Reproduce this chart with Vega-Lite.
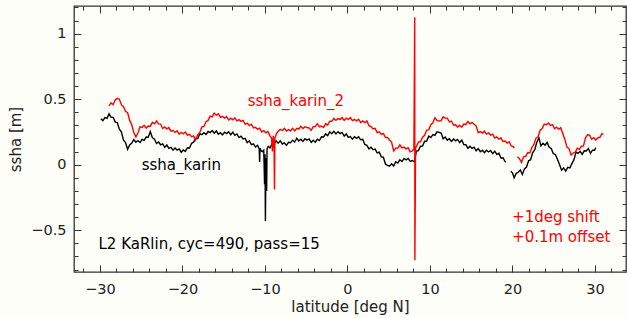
{
"$schema": "https://vega.github.io/schema/vega-lite/v6.json",
"width": 552, "height": 266,
"autosize": {"type": "none"},
"padding": {"left": 74, "top": 6, "right": 1, "bottom": 46},
"background": "#fefef8",
"config": {
  "view": {"stroke": "#333333", "strokeWidth": 1.3},
  "font": "DejaVu Sans",
  "axis": {"grid": false, "domain": false, "labelFont": "DejaVu Sans", "labelFontSize": 14.5, "labelColor": "#222222", "titleFont": "DejaVu Sans", "titleFontSize": 15, "titleFontWeight": "normal", "titleColor": "#222222", "tickColor": "#333333", "tickWidth": 1}
},
"datasets": {
"lines": [
{"lat":-29.9,"ssha":0.35,"series":"ssha_karin","part":1},
{"lat":-29.65,"ssha":0.336,"series":"ssha_karin","part":1},
{"lat":-29.4,"ssha":0.359,"series":"ssha_karin","part":1},
{"lat":-29.15,"ssha":0.354,"series":"ssha_karin","part":1},
{"lat":-28.9,"ssha":0.388,"series":"ssha_karin","part":1},
{"lat":-28.65,"ssha":0.362,"series":"ssha_karin","part":1},
{"lat":-28.4,"ssha":0.361,"series":"ssha_karin","part":1},
{"lat":-28.15,"ssha":0.325,"series":"ssha_karin","part":1},
{"lat":-27.9,"ssha":0.322,"series":"ssha_karin","part":1},
{"lat":-27.65,"ssha":0.271,"series":"ssha_karin","part":1},
{"lat":-27.4,"ssha":0.249,"series":"ssha_karin","part":1},
{"lat":-27.15,"ssha":0.187,"series":"ssha_karin","part":1},
{"lat":-26.9,"ssha":0.168,"series":"ssha_karin","part":1},
{"lat":-26.65,"ssha":0.117,"series":"ssha_karin","part":1},
{"lat":-26.4,"ssha":0.151,"series":"ssha_karin","part":1},
{"lat":-26.15,"ssha":0.165,"series":"ssha_karin","part":1},
{"lat":-25.9,"ssha":0.192,"series":"ssha_karin","part":1},
{"lat":-25.65,"ssha":0.171,"series":"ssha_karin","part":1},
{"lat":-25.4,"ssha":0.184,"series":"ssha_karin","part":1},
{"lat":-25.15,"ssha":0.169,"series":"ssha_karin","part":1},
{"lat":-24.9,"ssha":0.193,"series":"ssha_karin","part":1},
{"lat":-24.65,"ssha":0.185,"series":"ssha_karin","part":1},
{"lat":-24.4,"ssha":0.211,"series":"ssha_karin","part":1},
{"lat":-24.15,"ssha":0.21,"series":"ssha_karin","part":1},
{"lat":-23.9,"ssha":0.252,"series":"ssha_karin","part":1},
{"lat":-23.65,"ssha":0.206,"series":"ssha_karin","part":1},
{"lat":-23.4,"ssha":0.194,"series":"ssha_karin","part":1},
{"lat":-23.15,"ssha":0.162,"series":"ssha_karin","part":1},
{"lat":-22.9,"ssha":0.173,"series":"ssha_karin","part":1},
{"lat":-22.65,"ssha":0.152,"series":"ssha_karin","part":1},
{"lat":-22.4,"ssha":0.159,"series":"ssha_karin","part":1},
{"lat":-22.15,"ssha":0.133,"series":"ssha_karin","part":1},
{"lat":-21.9,"ssha":0.15,"series":"ssha_karin","part":1},
{"lat":-21.65,"ssha":0.124,"series":"ssha_karin","part":1},
{"lat":-21.4,"ssha":0.132,"series":"ssha_karin","part":1},
{"lat":-21.15,"ssha":0.111,"series":"ssha_karin","part":1},
{"lat":-20.9,"ssha":0.128,"series":"ssha_karin","part":1},
{"lat":-20.65,"ssha":0.112,"series":"ssha_karin","part":1},
{"lat":-20.4,"ssha":0.121,"series":"ssha_karin","part":1},
{"lat":-20.15,"ssha":0.095,"series":"ssha_karin","part":1},
{"lat":-19.9,"ssha":0.112,"series":"ssha_karin","part":1},
{"lat":-19.65,"ssha":0.101,"series":"ssha_karin","part":1},
{"lat":-19.4,"ssha":0.129,"series":"ssha_karin","part":1},
{"lat":-19.15,"ssha":0.127,"series":"ssha_karin","part":1},
{"lat":-18.9,"ssha":0.163,"series":"ssha_karin","part":1},
{"lat":-18.65,"ssha":0.172,"series":"ssha_karin","part":1},
{"lat":-18.4,"ssha":0.201,"series":"ssha_karin","part":1},
{"lat":-18.15,"ssha":0.2,"series":"ssha_karin","part":1},
{"lat":-17.9,"ssha":0.237,"series":"ssha_karin","part":1},
{"lat":-17.65,"ssha":0.229,"series":"ssha_karin","part":1},
{"lat":-17.4,"ssha":0.244,"series":"ssha_karin","part":1},
{"lat":-17.15,"ssha":0.23,"series":"ssha_karin","part":1},
{"lat":-16.9,"ssha":0.253,"series":"ssha_karin","part":1},
{"lat":-16.65,"ssha":0.244,"series":"ssha_karin","part":1},
{"lat":-16.4,"ssha":0.261,"series":"ssha_karin","part":1},
{"lat":-16.15,"ssha":0.24,"series":"ssha_karin","part":1},
{"lat":-15.9,"ssha":0.257,"series":"ssha_karin","part":1},
{"lat":-15.65,"ssha":0.233,"series":"ssha_karin","part":1},
{"lat":-15.4,"ssha":0.244,"series":"ssha_karin","part":1},
{"lat":-15.15,"ssha":0.227,"series":"ssha_karin","part":1},
{"lat":-14.9,"ssha":0.248,"series":"ssha_karin","part":1},
{"lat":-14.65,"ssha":0.237,"series":"ssha_karin","part":1},
{"lat":-14.4,"ssha":0.251,"series":"ssha_karin","part":1},
{"lat":-14.15,"ssha":0.228,"series":"ssha_karin","part":1},
{"lat":-13.9,"ssha":0.248,"series":"ssha_karin","part":1},
{"lat":-13.65,"ssha":0.224,"series":"ssha_karin","part":1},
{"lat":-13.4,"ssha":0.234,"series":"ssha_karin","part":1},
{"lat":-13.15,"ssha":0.207,"series":"ssha_karin","part":1},
{"lat":-12.9,"ssha":0.218,"series":"ssha_karin","part":1},
{"lat":-12.65,"ssha":0.197,"series":"ssha_karin","part":1},
{"lat":-12.4,"ssha":0.201,"series":"ssha_karin","part":1},
{"lat":-12.15,"ssha":0.168,"series":"ssha_karin","part":1},
{"lat":-11.9,"ssha":0.182,"series":"ssha_karin","part":1},
{"lat":-11.65,"ssha":0.153,"series":"ssha_karin","part":1},
{"lat":-11.4,"ssha":0.159,"series":"ssha_karin","part":1},
{"lat":-11.15,"ssha":0.135,"series":"ssha_karin","part":1},
{"lat":-10.9,"ssha":0.148,"series":"ssha_karin","part":1},
{"lat":-10.7,"ssha":0.12,"series":"ssha_karin","part":1},
{"lat":-10.65,"ssha":0.02,"series":"ssha_karin","part":1},
{"lat":-10.6,"ssha":0.125,"series":"ssha_karin","part":1},
{"lat":-10.45,"ssha":0.105,"series":"ssha_karin","part":1},
{"lat":-10.3,"ssha":0.1,"series":"ssha_karin","part":1},
{"lat":-10.15,"ssha":0.11,"series":"ssha_karin","part":1},
{"lat":-10.05,"ssha":-0.15,"series":"ssha_karin","part":1},
{"lat":-10.0,"ssha":0.08,"series":"ssha_karin","part":1},
{"lat":-9.95,"ssha":-0.43,"series":"ssha_karin","part":1},
{"lat":-9.9,"ssha":-0.1,"series":"ssha_karin","part":1},
{"lat":-9.85,"ssha":0.05,"series":"ssha_karin","part":1},
{"lat":-9.8,"ssha":-0.2,"series":"ssha_karin","part":1},
{"lat":-9.75,"ssha":0.12,"series":"ssha_karin","part":1},
{"lat":-9.6,"ssha":0.14,"series":"ssha_karin","part":1},
{"lat":-9.4,"ssha":0.128,"series":"ssha_karin","part":1},
{"lat":-9.15,"ssha":0.158,"series":"ssha_karin","part":1},
{"lat":-8.9,"ssha":0.157,"series":"ssha_karin","part":1},
{"lat":-8.65,"ssha":0.181,"series":"ssha_karin","part":1},
{"lat":-8.4,"ssha":0.164,"series":"ssha_karin","part":1},
{"lat":-8.15,"ssha":0.182,"series":"ssha_karin","part":1},
{"lat":-7.9,"ssha":0.158,"series":"ssha_karin","part":1},
{"lat":-7.65,"ssha":0.167,"series":"ssha_karin","part":1},
{"lat":-7.4,"ssha":0.147,"series":"ssha_karin","part":1},
{"lat":-7.15,"ssha":0.171,"series":"ssha_karin","part":1},
{"lat":-6.9,"ssha":0.167,"series":"ssha_karin","part":1},
{"lat":-6.65,"ssha":0.187,"series":"ssha_karin","part":1},
{"lat":-6.4,"ssha":0.173,"series":"ssha_karin","part":1},
{"lat":-6.15,"ssha":0.202,"series":"ssha_karin","part":1},
{"lat":-5.9,"ssha":0.181,"series":"ssha_karin","part":1},
{"lat":-5.65,"ssha":0.194,"series":"ssha_karin","part":1},
{"lat":-5.4,"ssha":0.177,"series":"ssha_karin","part":1},
{"lat":-5.15,"ssha":0.198,"series":"ssha_karin","part":1},
{"lat":-4.9,"ssha":0.187,"series":"ssha_karin","part":1},
{"lat":-4.65,"ssha":0.196,"series":"ssha_karin","part":1},
{"lat":-4.4,"ssha":0.17,"series":"ssha_karin","part":1},
{"lat":-4.15,"ssha":0.187,"series":"ssha_karin","part":1},
{"lat":-3.9,"ssha":0.172,"series":"ssha_karin","part":1},
{"lat":-3.65,"ssha":0.194,"series":"ssha_karin","part":1},
{"lat":-3.4,"ssha":0.184,"series":"ssha_karin","part":1},
{"lat":-3.15,"ssha":0.213,"series":"ssha_karin","part":1},
{"lat":-2.9,"ssha":0.212,"series":"ssha_karin","part":1},
{"lat":-2.65,"ssha":0.235,"series":"ssha_karin","part":1},
{"lat":-2.4,"ssha":0.222,"series":"ssha_karin","part":1},
{"lat":-2.15,"ssha":0.251,"series":"ssha_karin","part":1},
{"lat":-1.9,"ssha":0.236,"series":"ssha_karin","part":1},
{"lat":-1.65,"ssha":0.254,"series":"ssha_karin","part":1},
{"lat":-1.4,"ssha":0.234,"series":"ssha_karin","part":1},
{"lat":-1.15,"ssha":0.252,"series":"ssha_karin","part":1},
{"lat":-0.9,"ssha":0.237,"series":"ssha_karin","part":1},
{"lat":-0.65,"ssha":0.246,"series":"ssha_karin","part":1},
{"lat":-0.4,"ssha":0.219,"series":"ssha_karin","part":1},
{"lat":-0.15,"ssha":0.235,"series":"ssha_karin","part":1},
{"lat":0.1,"ssha":0.208,"series":"ssha_karin","part":1},
{"lat":0.35,"ssha":0.214,"series":"ssha_karin","part":1},
{"lat":0.6,"ssha":0.195,"series":"ssha_karin","part":1},
{"lat":0.85,"ssha":0.214,"series":"ssha_karin","part":1},
{"lat":1.1,"ssha":0.201,"series":"ssha_karin","part":1},
{"lat":1.35,"ssha":0.213,"series":"ssha_karin","part":1},
{"lat":1.6,"ssha":0.19,"series":"ssha_karin","part":1},
{"lat":1.85,"ssha":0.193,"series":"ssha_karin","part":1},
{"lat":2.1,"ssha":0.154,"series":"ssha_karin","part":1},
{"lat":2.35,"ssha":0.148,"series":"ssha_karin","part":1},
{"lat":2.6,"ssha":0.12,"series":"ssha_karin","part":1},
{"lat":2.85,"ssha":0.133,"series":"ssha_karin","part":1},
{"lat":3.1,"ssha":0.114,"series":"ssha_karin","part":1},
{"lat":3.35,"ssha":0.119,"series":"ssha_karin","part":1},
{"lat":3.6,"ssha":0.09,"series":"ssha_karin","part":1},
{"lat":3.85,"ssha":0.096,"series":"ssha_karin","part":1},
{"lat":4.1,"ssha":0.06,"series":"ssha_karin","part":1},
{"lat":4.35,"ssha":0.057,"series":"ssha_karin","part":1},
{"lat":4.6,"ssha":0.005,"series":"ssha_karin","part":1},
{"lat":4.85,"ssha":-0.005,"series":"ssha_karin","part":1},
{"lat":5.1,"ssha":-0.012,"series":"ssha_karin","part":1},
{"lat":5.35,"ssha":0.007,"series":"ssha_karin","part":1},
{"lat":5.6,"ssha":-0.01,"series":"ssha_karin","part":1},
{"lat":5.85,"ssha":0.023,"series":"ssha_karin","part":1},
{"lat":6.1,"ssha":0.013,"series":"ssha_karin","part":1},
{"lat":6.35,"ssha":0.037,"series":"ssha_karin","part":1},
{"lat":6.6,"ssha":0.024,"series":"ssha_karin","part":1},
{"lat":6.85,"ssha":0.047,"series":"ssha_karin","part":1},
{"lat":7.1,"ssha":0.037,"series":"ssha_karin","part":1},
{"lat":7.35,"ssha":0.048,"series":"ssha_karin","part":1},
{"lat":7.6,"ssha":0.025,"series":"ssha_karin","part":1},
{"lat":7.85,"ssha":0.032,"series":"ssha_karin","part":1},
{"lat":8.1,"ssha":0.021,"series":"ssha_karin","part":1},
{"lat":8.35,"ssha":0.104,"series":"ssha_karin","part":1},
{"lat":8.6,"ssha":0.107,"series":"ssha_karin","part":1},
{"lat":8.85,"ssha":0.141,"series":"ssha_karin","part":1},
{"lat":9.1,"ssha":0.142,"series":"ssha_karin","part":1},
{"lat":9.35,"ssha":0.179,"series":"ssha_karin","part":1},
{"lat":9.6,"ssha":0.18,"series":"ssha_karin","part":1},
{"lat":9.85,"ssha":0.218,"series":"ssha_karin","part":1},
{"lat":10.1,"ssha":0.207,"series":"ssha_karin","part":1},
{"lat":10.35,"ssha":0.23,"series":"ssha_karin","part":1},
{"lat":10.6,"ssha":0.223,"series":"ssha_karin","part":1},
{"lat":10.85,"ssha":0.251,"series":"ssha_karin","part":1},
{"lat":11.1,"ssha":0.247,"series":"ssha_karin","part":1},
{"lat":11.35,"ssha":0.241,"series":"ssha_karin","part":1},
{"lat":11.6,"ssha":0.198,"series":"ssha_karin","part":1},
{"lat":11.85,"ssha":0.211,"series":"ssha_karin","part":1},
{"lat":12.1,"ssha":0.187,"series":"ssha_karin","part":1},
{"lat":12.35,"ssha":0.198,"series":"ssha_karin","part":1},
{"lat":12.6,"ssha":0.178,"series":"ssha_karin","part":1},
{"lat":12.85,"ssha":0.196,"series":"ssha_karin","part":1},
{"lat":13.1,"ssha":0.182,"series":"ssha_karin","part":1},
{"lat":13.35,"ssha":0.193,"series":"ssha_karin","part":1},
{"lat":13.6,"ssha":0.169,"series":"ssha_karin","part":1},
{"lat":13.85,"ssha":0.188,"series":"ssha_karin","part":1},
{"lat":14.1,"ssha":0.154,"series":"ssha_karin","part":1},
{"lat":14.35,"ssha":0.152,"series":"ssha_karin","part":1},
{"lat":14.6,"ssha":0.125,"series":"ssha_karin","part":1},
{"lat":14.85,"ssha":0.141,"series":"ssha_karin","part":1},
{"lat":15.1,"ssha":0.124,"series":"ssha_karin","part":1},
{"lat":15.35,"ssha":0.133,"series":"ssha_karin","part":1},
{"lat":15.6,"ssha":0.106,"series":"ssha_karin","part":1},
{"lat":15.85,"ssha":0.123,"series":"ssha_karin","part":1},
{"lat":16.1,"ssha":0.099,"series":"ssha_karin","part":1},
{"lat":16.35,"ssha":0.11,"series":"ssha_karin","part":1},
{"lat":16.6,"ssha":0.091,"series":"ssha_karin","part":1},
{"lat":16.85,"ssha":0.11,"series":"ssha_karin","part":1},
{"lat":17.1,"ssha":0.097,"series":"ssha_karin","part":1},
{"lat":17.35,"ssha":0.108,"series":"ssha_karin","part":1},
{"lat":17.6,"ssha":0.084,"series":"ssha_karin","part":1},
{"lat":17.85,"ssha":0.103,"series":"ssha_karin","part":1},
{"lat":18.1,"ssha":0.079,"series":"ssha_karin","part":1},
{"lat":18.35,"ssha":0.087,"series":"ssha_karin","part":1},
{"lat":18.6,"ssha":0.051,"series":"ssha_karin","part":1},
{"lat":18.85,"ssha":0.053,"series":"ssha_karin","part":1},
{"lat":19.1,"ssha":0.024,"series":"ssha_karin","part":1},
{"lat":19.2,"ssha":0.02,"series":"ssha_karin","part":1},
{"lat":19.8,"ssha":-0.05,"series":"ssha_karin","part":2},
{"lat":20.0,"ssha":-0.062,"series":"ssha_karin","part":2},
{"lat":20.2,"ssha":-0.1,"series":"ssha_karin","part":2},
{"lat":20.45,"ssha":-0.066,"series":"ssha_karin","part":2},
{"lat":20.7,"ssha":-0.058,"series":"ssha_karin","part":2},
{"lat":20.95,"ssha":-0.04,"series":"ssha_karin","part":2},
{"lat":21.2,"ssha":-0.075,"series":"ssha_karin","part":2},
{"lat":21.45,"ssha":-0.032,"series":"ssha_karin","part":2},
{"lat":21.7,"ssha":-0.018,"series":"ssha_karin","part":2},
{"lat":21.95,"ssha":0.03,"series":"ssha_karin","part":2},
{"lat":22.2,"ssha":0.038,"series":"ssha_karin","part":2},
{"lat":22.45,"ssha":0.092,"series":"ssha_karin","part":2},
{"lat":22.7,"ssha":0.115,"series":"ssha_karin","part":2},
{"lat":22.95,"ssha":0.171,"series":"ssha_karin","part":2},
{"lat":23.2,"ssha":0.205,"series":"ssha_karin","part":2},
{"lat":23.45,"ssha":0.144,"series":"ssha_karin","part":2},
{"lat":23.7,"ssha":0.163,"series":"ssha_karin","part":2},
{"lat":23.95,"ssha":0.149,"series":"ssha_karin","part":2},
{"lat":24.2,"ssha":0.17,"series":"ssha_karin","part":2},
{"lat":24.45,"ssha":0.133,"series":"ssha_karin","part":2},
{"lat":24.7,"ssha":0.124,"series":"ssha_karin","part":2},
{"lat":24.95,"ssha":0.084,"series":"ssha_karin","part":2},
{"lat":25.2,"ssha":0.078,"series":"ssha_karin","part":2},
{"lat":25.45,"ssha":0.041,"series":"ssha_karin","part":2},
{"lat":25.7,"ssha":0.001,"series":"ssha_karin","part":2},
{"lat":25.95,"ssha":-0.042,"series":"ssha_karin","part":2},
{"lat":26.2,"ssha":-0.025,"series":"ssha_karin","part":2},
{"lat":26.45,"ssha":-0.049,"series":"ssha_karin","part":2},
{"lat":26.7,"ssha":-0.021,"series":"ssha_karin","part":2},
{"lat":26.95,"ssha":-0.025,"series":"ssha_karin","part":2},
{"lat":27.2,"ssha":0.008,"series":"ssha_karin","part":2},
{"lat":27.45,"ssha":0.037,"series":"ssha_karin","part":2},
{"lat":27.7,"ssha":0.096,"series":"ssha_karin","part":2},
{"lat":27.95,"ssha":0.086,"series":"ssha_karin","part":2},
{"lat":28.2,"ssha":0.102,"series":"ssha_karin","part":2},
{"lat":28.45,"ssha":0.078,"series":"ssha_karin","part":2},
{"lat":28.7,"ssha":0.106,"series":"ssha_karin","part":2},
{"lat":28.95,"ssha":0.104,"series":"ssha_karin","part":2},
{"lat":29.2,"ssha":0.123,"series":"ssha_karin","part":2},
{"lat":29.45,"ssha":0.087,"series":"ssha_karin","part":2},
{"lat":29.7,"ssha":0.111,"series":"ssha_karin","part":2},
{"lat":29.95,"ssha":0.11,"series":"ssha_karin","part":2},
{"lat":30.1,"ssha":0.13,"series":"ssha_karin","part":2},
{"lat":-28.9,"ssha":0.449,"series":"ssha_karin_2","part":1},
{"lat":-28.65,"ssha":0.472,"series":"ssha_karin_2","part":1},
{"lat":-28.4,"ssha":0.458,"series":"ssha_karin_2","part":1},
{"lat":-28.15,"ssha":0.495,"series":"ssha_karin_2","part":1},
{"lat":-27.9,"ssha":0.506,"series":"ssha_karin_2","part":1},
{"lat":-27.65,"ssha":0.5,"series":"ssha_karin_2","part":1},
{"lat":-27.4,"ssha":0.456,"series":"ssha_karin_2","part":1},
{"lat":-27.15,"ssha":0.443,"series":"ssha_karin_2","part":1},
{"lat":-26.9,"ssha":0.407,"series":"ssha_karin_2","part":1},
{"lat":-26.65,"ssha":0.396,"series":"ssha_karin_2","part":1},
{"lat":-26.4,"ssha":0.338,"series":"ssha_karin_2","part":1},
{"lat":-26.15,"ssha":0.305,"series":"ssha_karin_2","part":1},
{"lat":-25.9,"ssha":0.246,"series":"ssha_karin_2","part":1},
{"lat":-25.65,"ssha":0.212,"series":"ssha_karin_2","part":1},
{"lat":-25.4,"ssha":0.242,"series":"ssha_karin_2","part":1},
{"lat":-25.15,"ssha":0.288,"series":"ssha_karin_2","part":1},
{"lat":-24.9,"ssha":0.284,"series":"ssha_karin_2","part":1},
{"lat":-24.65,"ssha":0.3,"series":"ssha_karin_2","part":1},
{"lat":-24.4,"ssha":0.278,"series":"ssha_karin_2","part":1},
{"lat":-24.15,"ssha":0.295,"series":"ssha_karin_2","part":1},
{"lat":-23.9,"ssha":0.294,"series":"ssha_karin_2","part":1},
{"lat":-23.65,"ssha":0.323,"series":"ssha_karin_2","part":1},
{"lat":-23.4,"ssha":0.312,"series":"ssha_karin_2","part":1},
{"lat":-23.15,"ssha":0.333,"series":"ssha_karin_2","part":1},
{"lat":-22.9,"ssha":0.311,"series":"ssha_karin_2","part":1},
{"lat":-22.65,"ssha":0.31,"series":"ssha_karin_2","part":1},
{"lat":-22.4,"ssha":0.276,"series":"ssha_karin_2","part":1},
{"lat":-22.15,"ssha":0.288,"series":"ssha_karin_2","part":1},
{"lat":-21.9,"ssha":0.273,"series":"ssha_karin_2","part":1},
{"lat":-21.65,"ssha":0.283,"series":"ssha_karin_2","part":1},
{"lat":-21.4,"ssha":0.256,"series":"ssha_karin_2","part":1},
{"lat":-21.15,"ssha":0.261,"series":"ssha_karin_2","part":1},
{"lat":-20.9,"ssha":0.246,"series":"ssha_karin_2","part":1},
{"lat":-20.65,"ssha":0.258,"series":"ssha_karin_2","part":1},
{"lat":-20.4,"ssha":0.233,"series":"ssha_karin_2","part":1},
{"lat":-20.15,"ssha":0.247,"series":"ssha_karin_2","part":1},
{"lat":-19.9,"ssha":0.235,"series":"ssha_karin_2","part":1},
{"lat":-19.65,"ssha":0.249,"series":"ssha_karin_2","part":1},
{"lat":-19.4,"ssha":0.225,"series":"ssha_karin_2","part":1},
{"lat":-19.15,"ssha":0.231,"series":"ssha_karin_2","part":1},
{"lat":-18.9,"ssha":0.213,"series":"ssha_karin_2","part":1},
{"lat":-18.65,"ssha":0.22,"series":"ssha_karin_2","part":1},
{"lat":-18.4,"ssha":0.188,"series":"ssha_karin_2","part":1},
{"lat":-18.15,"ssha":0.23,"series":"ssha_karin_2","part":1},
{"lat":-17.9,"ssha":0.246,"series":"ssha_karin_2","part":1},
{"lat":-17.65,"ssha":0.288,"series":"ssha_karin_2","part":1},
{"lat":-17.4,"ssha":0.292,"series":"ssha_karin_2","part":1},
{"lat":-17.15,"ssha":0.328,"series":"ssha_karin_2","part":1},
{"lat":-16.9,"ssha":0.338,"series":"ssha_karin_2","part":1},
{"lat":-16.65,"ssha":0.37,"series":"ssha_karin_2","part":1},
{"lat":-16.4,"ssha":0.365,"series":"ssha_karin_2","part":1},
{"lat":-16.15,"ssha":0.394,"series":"ssha_karin_2","part":1},
{"lat":-15.9,"ssha":0.378,"series":"ssha_karin_2","part":1},
{"lat":-15.65,"ssha":0.389,"series":"ssha_karin_2","part":1},
{"lat":-15.4,"ssha":0.362,"series":"ssha_karin_2","part":1},
{"lat":-15.15,"ssha":0.369,"series":"ssha_karin_2","part":1},
{"lat":-14.9,"ssha":0.356,"series":"ssha_karin_2","part":1},
{"lat":-14.65,"ssha":0.367,"series":"ssha_karin_2","part":1},
{"lat":-14.4,"ssha":0.341,"series":"ssha_karin_2","part":1},
{"lat":-14.15,"ssha":0.355,"series":"ssha_karin_2","part":1},
{"lat":-13.9,"ssha":0.343,"series":"ssha_karin_2","part":1},
{"lat":-13.65,"ssha":0.358,"series":"ssha_karin_2","part":1},
{"lat":-13.4,"ssha":0.335,"series":"ssha_karin_2","part":1},
{"lat":-13.15,"ssha":0.344,"series":"ssha_karin_2","part":1},
{"lat":-12.9,"ssha":0.331,"series":"ssha_karin_2","part":1},
{"lat":-12.65,"ssha":0.338,"series":"ssha_karin_2","part":1},
{"lat":-12.4,"ssha":0.308,"series":"ssha_karin_2","part":1},
{"lat":-12.15,"ssha":0.317,"series":"ssha_karin_2","part":1},
{"lat":-11.9,"ssha":0.299,"series":"ssha_karin_2","part":1},
{"lat":-11.65,"ssha":0.309,"series":"ssha_karin_2","part":1},
{"lat":-11.4,"ssha":0.281,"series":"ssha_karin_2","part":1},
{"lat":-11.15,"ssha":0.285,"series":"ssha_karin_2","part":1},
{"lat":-10.9,"ssha":0.27,"series":"ssha_karin_2","part":1},
{"lat":-10.65,"ssha":0.279,"series":"ssha_karin_2","part":1},
{"lat":-10.4,"ssha":0.25,"series":"ssha_karin_2","part":1},
{"lat":-10.15,"ssha":0.26,"series":"ssha_karin_2","part":1},
{"lat":-9.9,"ssha":0.243,"series":"ssha_karin_2","part":1},
{"lat":-9.65,"ssha":0.253,"series":"ssha_karin_2","part":1},
{"lat":-9.4,"ssha":0.22,"series":"ssha_karin_2","part":1},
{"lat":-9.2,"ssha":0.2,"series":"ssha_karin_2","part":1},
{"lat":-9.1,"ssha":0.1,"series":"ssha_karin_2","part":1},
{"lat":-9.0,"ssha":0.22,"series":"ssha_karin_2","part":1},
{"lat":-8.9,"ssha":0.15,"series":"ssha_karin_2","part":1},
{"lat":-8.85,"ssha":-0.19,"series":"ssha_karin_2","part":1},
{"lat":-8.8,"ssha":0.2,"series":"ssha_karin_2","part":1},
{"lat":-8.6,"ssha":0.24,"series":"ssha_karin_2","part":1},
{"lat":-8.4,"ssha":0.255,"series":"ssha_karin_2","part":1},
{"lat":-8.15,"ssha":0.27,"series":"ssha_karin_2","part":1},
{"lat":-7.9,"ssha":0.261,"series":"ssha_karin_2","part":1},
{"lat":-7.65,"ssha":0.278,"series":"ssha_karin_2","part":1},
{"lat":-7.4,"ssha":0.257,"series":"ssha_karin_2","part":1},
{"lat":-7.15,"ssha":0.268,"series":"ssha_karin_2","part":1},
{"lat":-6.9,"ssha":0.259,"series":"ssha_karin_2","part":1},
{"lat":-6.65,"ssha":0.278,"series":"ssha_karin_2","part":1},
{"lat":-6.4,"ssha":0.258,"series":"ssha_karin_2","part":1},
{"lat":-6.15,"ssha":0.278,"series":"ssha_karin_2","part":1},
{"lat":-5.9,"ssha":0.272,"series":"ssha_karin_2","part":1},
{"lat":-5.65,"ssha":0.293,"series":"ssha_karin_2","part":1},
{"lat":-5.4,"ssha":0.276,"series":"ssha_karin_2","part":1},
{"lat":-5.15,"ssha":0.29,"series":"ssha_karin_2","part":1},
{"lat":-4.9,"ssha":0.284,"series":"ssha_karin_2","part":1},
{"lat":-4.65,"ssha":0.28,"series":"ssha_karin_2","part":1},
{"lat":-4.4,"ssha":0.262,"series":"ssha_karin_2","part":1},
{"lat":-4.15,"ssha":0.29,"series":"ssha_karin_2","part":1},
{"lat":-3.9,"ssha":0.292,"series":"ssha_karin_2","part":1},
{"lat":-3.65,"ssha":0.313,"series":"ssha_karin_2","part":1},
{"lat":-3.4,"ssha":0.288,"series":"ssha_karin_2","part":1},
{"lat":-3.15,"ssha":0.295,"series":"ssha_karin_2","part":1},
{"lat":-2.9,"ssha":0.284,"series":"ssha_karin_2","part":1},
{"lat":-2.65,"ssha":0.312,"series":"ssha_karin_2","part":1},
{"lat":-2.4,"ssha":0.303,"series":"ssha_karin_2","part":1},
{"lat":-2.15,"ssha":0.332,"series":"ssha_karin_2","part":1},
{"lat":-1.9,"ssha":0.331,"series":"ssha_karin_2","part":1},
{"lat":-1.65,"ssha":0.353,"series":"ssha_karin_2","part":1},
{"lat":-1.4,"ssha":0.338,"series":"ssha_karin_2","part":1},
{"lat":-1.15,"ssha":0.353,"series":"ssha_karin_2","part":1},
{"lat":-0.9,"ssha":0.344,"series":"ssha_karin_2","part":1},
{"lat":-0.65,"ssha":0.36,"series":"ssha_karin_2","part":1},
{"lat":-0.4,"ssha":0.338,"series":"ssha_karin_2","part":1},
{"lat":-0.15,"ssha":0.355,"series":"ssha_karin_2","part":1},
{"lat":0.1,"ssha":0.345,"series":"ssha_karin_2","part":1},
{"lat":0.35,"ssha":0.36,"series":"ssha_karin_2","part":1},
{"lat":0.6,"ssha":0.337,"series":"ssha_karin_2","part":1},
{"lat":0.85,"ssha":0.346,"series":"ssha_karin_2","part":1},
{"lat":1.1,"ssha":0.335,"series":"ssha_karin_2","part":1},
{"lat":1.35,"ssha":0.347,"series":"ssha_karin_2","part":1},
{"lat":1.6,"ssha":0.321,"series":"ssha_karin_2","part":1},
{"lat":1.85,"ssha":0.334,"series":"ssha_karin_2","part":1},
{"lat":2.1,"ssha":0.321,"series":"ssha_karin_2","part":1},
{"lat":2.35,"ssha":0.334,"series":"ssha_karin_2","part":1},
{"lat":2.6,"ssha":0.297,"series":"ssha_karin_2","part":1},
{"lat":2.85,"ssha":0.291,"series":"ssha_karin_2","part":1},
{"lat":3.1,"ssha":0.272,"series":"ssha_karin_2","part":1},
{"lat":3.35,"ssha":0.277,"series":"ssha_karin_2","part":1},
{"lat":3.6,"ssha":0.245,"series":"ssha_karin_2","part":1},
{"lat":3.85,"ssha":0.251,"series":"ssha_karin_2","part":1},
{"lat":4.1,"ssha":0.232,"series":"ssha_karin_2","part":1},
{"lat":4.35,"ssha":0.239,"series":"ssha_karin_2","part":1},
{"lat":4.6,"ssha":0.207,"series":"ssha_karin_2","part":1},
{"lat":4.85,"ssha":0.208,"series":"ssha_karin_2","part":1},
{"lat":5.1,"ssha":0.188,"series":"ssha_karin_2","part":1},
{"lat":5.35,"ssha":0.17,"series":"ssha_karin_2","part":1},
{"lat":5.6,"ssha":0.105,"series":"ssha_karin_2","part":1},
{"lat":5.85,"ssha":0.125,"series":"ssha_karin_2","part":1},
{"lat":6.1,"ssha":0.126,"series":"ssha_karin_2","part":1},
{"lat":6.35,"ssha":0.151,"series":"ssha_karin_2","part":1},
{"lat":6.6,"ssha":0.128,"series":"ssha_karin_2","part":1},
{"lat":6.85,"ssha":0.134,"series":"ssha_karin_2","part":1},
{"lat":7.1,"ssha":0.121,"series":"ssha_karin_2","part":1},
{"lat":7.35,"ssha":0.13,"series":"ssha_karin_2","part":1},
{"lat":7.6,"ssha":0.098,"series":"ssha_karin_2","part":1},
{"lat":7.85,"ssha":0.105,"series":"ssha_karin_2","part":1},
{"lat":8.05,"ssha":0.12,"series":"ssha_karin_2","part":1},
{"lat":8.15,"ssha":1.125,"series":"ssha_karin_2","part":1},
{"lat":8.17,"ssha":-0.73,"series":"ssha_karin_2","part":1},
{"lat":8.25,"ssha":0.13,"series":"ssha_karin_2","part":1},
{"lat":8.35,"ssha":0.136,"series":"ssha_karin_2","part":1},
{"lat":8.6,"ssha":0.173,"series":"ssha_karin_2","part":1},
{"lat":8.85,"ssha":0.175,"series":"ssha_karin_2","part":1},
{"lat":9.1,"ssha":0.21,"series":"ssha_karin_2","part":1},
{"lat":9.35,"ssha":0.224,"series":"ssha_karin_2","part":1},
{"lat":9.6,"ssha":0.264,"series":"ssha_karin_2","part":1},
{"lat":9.85,"ssha":0.266,"series":"ssha_karin_2","part":1},
{"lat":10.1,"ssha":0.305,"series":"ssha_karin_2","part":1},
{"lat":10.35,"ssha":0.32,"series":"ssha_karin_2","part":1},
{"lat":10.6,"ssha":0.359,"series":"ssha_karin_2","part":1},
{"lat":10.85,"ssha":0.338,"series":"ssha_karin_2","part":1},
{"lat":11.1,"ssha":0.333,"series":"ssha_karin_2","part":1},
{"lat":11.35,"ssha":0.336,"series":"ssha_karin_2","part":1},
{"lat":11.6,"ssha":0.365,"series":"ssha_karin_2","part":1},
{"lat":11.85,"ssha":0.355,"series":"ssha_karin_2","part":1},
{"lat":12.1,"ssha":0.355,"series":"ssha_karin_2","part":1},
{"lat":12.35,"ssha":0.326,"series":"ssha_karin_2","part":1},
{"lat":12.6,"ssha":0.333,"series":"ssha_karin_2","part":1},
{"lat":12.85,"ssha":0.303,"series":"ssha_karin_2","part":1},
{"lat":13.1,"ssha":0.305,"series":"ssha_karin_2","part":1},
{"lat":13.35,"ssha":0.288,"series":"ssha_karin_2","part":1},
{"lat":13.6,"ssha":0.302,"series":"ssha_karin_2","part":1},
{"lat":13.85,"ssha":0.286,"series":"ssha_karin_2","part":1},
{"lat":14.1,"ssha":0.31,"series":"ssha_karin_2","part":1},
{"lat":14.35,"ssha":0.307,"series":"ssha_karin_2","part":1},
{"lat":14.6,"ssha":0.331,"series":"ssha_karin_2","part":1},
{"lat":14.85,"ssha":0.312,"series":"ssha_karin_2","part":1},
{"lat":15.1,"ssha":0.323,"series":"ssha_karin_2","part":1},
{"lat":15.35,"ssha":0.308,"series":"ssha_karin_2","part":1},
{"lat":15.6,"ssha":0.295,"series":"ssha_karin_2","part":1},
{"lat":15.85,"ssha":0.244,"series":"ssha_karin_2","part":1},
{"lat":16.1,"ssha":0.253,"series":"ssha_karin_2","part":1},
{"lat":16.35,"ssha":0.241,"series":"ssha_karin_2","part":1},
{"lat":16.6,"ssha":0.256,"series":"ssha_karin_2","part":1},
{"lat":16.85,"ssha":0.233,"series":"ssha_karin_2","part":1},
{"lat":17.1,"ssha":0.243,"series":"ssha_karin_2","part":1},
{"lat":17.35,"ssha":0.226,"series":"ssha_karin_2","part":1},
{"lat":17.6,"ssha":0.233,"series":"ssha_karin_2","part":1},
{"lat":17.85,"ssha":0.203,"series":"ssha_karin_2","part":1},
{"lat":18.1,"ssha":0.212,"series":"ssha_karin_2","part":1},
{"lat":18.35,"ssha":0.195,"series":"ssha_karin_2","part":1},
{"lat":18.6,"ssha":0.205,"series":"ssha_karin_2","part":1},
{"lat":18.85,"ssha":0.177,"series":"ssha_karin_2","part":1},
{"lat":19.1,"ssha":0.181,"series":"ssha_karin_2","part":1},
{"lat":19.35,"ssha":0.165,"series":"ssha_karin_2","part":1},
{"lat":19.6,"ssha":0.175,"series":"ssha_karin_2","part":1},
{"lat":19.85,"ssha":0.143,"series":"ssha_karin_2","part":1},
{"lat":20.1,"ssha":0.138,"series":"ssha_karin_2","part":1},
{"lat":20.2,"ssha":0.125,"series":"ssha_karin_2","part":1},
{"lat":20.6,"ssha":0.06,"series":"ssha_karin_2","part":2},
{"lat":20.85,"ssha":0.045,"series":"ssha_karin_2","part":2},
{"lat":21.1,"ssha":0.018,"series":"ssha_karin_2","part":2},
{"lat":21.35,"ssha":0.06,"series":"ssha_karin_2","part":2},
{"lat":21.6,"ssha":0.064,"series":"ssha_karin_2","part":2},
{"lat":21.85,"ssha":0.092,"series":"ssha_karin_2","part":2},
{"lat":22.1,"ssha":0.089,"series":"ssha_karin_2","part":2},
{"lat":22.35,"ssha":0.131,"series":"ssha_karin_2","part":2},
{"lat":22.6,"ssha":0.154,"series":"ssha_karin_2","part":2},
{"lat":22.85,"ssha":0.203,"series":"ssha_karin_2","part":2},
{"lat":23.1,"ssha":0.213,"series":"ssha_karin_2","part":2},
{"lat":23.35,"ssha":0.263,"series":"ssha_karin_2","part":2},
{"lat":23.6,"ssha":0.275,"series":"ssha_karin_2","part":2},
{"lat":23.85,"ssha":0.309,"series":"ssha_karin_2","part":2},
{"lat":24.1,"ssha":0.305,"series":"ssha_karin_2","part":2},
{"lat":24.35,"ssha":0.318,"series":"ssha_karin_2","part":2},
{"lat":24.6,"ssha":0.299,"series":"ssha_karin_2","part":2},
{"lat":24.85,"ssha":0.305,"series":"ssha_karin_2","part":2},
{"lat":25.1,"ssha":0.275,"series":"ssha_karin_2","part":2},
{"lat":25.35,"ssha":0.286,"series":"ssha_karin_2","part":2},
{"lat":25.6,"ssha":0.271,"series":"ssha_karin_2","part":2},
{"lat":25.85,"ssha":0.282,"series":"ssha_karin_2","part":2},
{"lat":26.1,"ssha":0.236,"series":"ssha_karin_2","part":2},
{"lat":26.35,"ssha":0.193,"series":"ssha_karin_2","part":2},
{"lat":26.6,"ssha":0.134,"series":"ssha_karin_2","part":2},
{"lat":26.85,"ssha":0.123,"series":"ssha_karin_2","part":2},
{"lat":27.1,"ssha":0.074,"series":"ssha_karin_2","part":2},
{"lat":27.35,"ssha":0.089,"series":"ssha_karin_2","part":2},
{"lat":27.6,"ssha":0.094,"series":"ssha_karin_2","part":2},
{"lat":27.85,"ssha":0.126,"series":"ssha_karin_2","part":2},
{"lat":28.1,"ssha":0.117,"series":"ssha_karin_2","part":2},
{"lat":28.35,"ssha":0.141,"series":"ssha_karin_2","part":2},
{"lat":28.6,"ssha":0.144,"series":"ssha_karin_2","part":2},
{"lat":28.85,"ssha":0.205,"series":"ssha_karin_2","part":2},
{"lat":29.1,"ssha":0.228,"series":"ssha_karin_2","part":2},
{"lat":29.35,"ssha":0.225,"series":"ssha_karin_2","part":2},
{"lat":29.6,"ssha":0.194,"series":"ssha_karin_2","part":2},
{"lat":29.85,"ssha":0.206,"series":"ssha_karin_2","part":2},
{"lat":30.1,"ssha":0.189,"series":"ssha_karin_2","part":2},
{"lat":30.35,"ssha":0.206,"series":"ssha_karin_2","part":2},
{"lat":30.6,"ssha":0.209,"series":"ssha_karin_2","part":2},
{"lat":30.85,"ssha":0.238,"series":"ssha_karin_2","part":2},
{"lat":31.0,"ssha":0.23,"series":"ssha_karin_2","part":2}
],
"blacktext": [
{"lat":-24.95,"ssha":-0.04,"label":"ssha_karin"},
{"lat":-30.18,"ssha":-0.646,"label":"L2 KaRlin, cyc=490, pass=15"}
],
"redtext": [
{"lat":-12.1,"ssha":0.448,"label":"ssha_karin_2"},
{"lat":19.95,"ssha":-0.44,"label":"+1deg shift"},
{"lat":19.95,"ssha":-0.592,"label":"+0.1m offset"}
],
"anchor": [{"lat":0,"ssha":0}]
},
"resolve": {"axis": {"x": "independent", "y": "independent"}},
"layer": [
{
  "data": {"name": "lines"},
  "mark": {"type": "line", "strokeWidth": 1.4},
  "encoding": {
    "x": {"field": "lat", "type": "quantitative", "scale": {"domain": [-33.15, 33.76], "nice": false, "zero": false},
      "axis": {"orient": "bottom", "values": [-30,-20,-10,0,10,20,30], "ticks": false, "labelPadding": 10, "title": "latitude [deg N]", "titlePadding": 4, "format": "~f"}},
    "y": {"field": "ssha", "type": "quantitative", "scale": {"domain": [-0.819, 1.211], "nice": false, "zero": false},
      "axis": {"orient": "left", "values": [-0.5,0,0.5,1], "ticks": false, "labelPadding": 8, "title": "ssha [m]", "titlePadding": 7, "format": "~f"}},
    "color": {"field": "series", "type": "nominal", "scale": {"domain": ["ssha_karin","ssha_karin_2"], "range": ["#000000","#ff0000"]}, "legend": null},
    "detail": {"field": "part", "type": "nominal"},
    "order": {"field": "lat", "type": "quantitative"}
  }
},
{
  "data": {"name": "blacktext"},
  "mark": {"type": "text", "align": "left", "baseline": "alphabetic", "fontSize": 15, "font": "DejaVu Sans", "color": "#000000"},
  "encoding": {
    "x": {"field": "lat", "type": "quantitative", "scale": {"domain": [-33.15, 33.76], "nice": false, "zero": false}, "axis": null},
    "y": {"field": "ssha", "type": "quantitative", "scale": {"domain": [-0.819, 1.211], "nice": false, "zero": false}, "axis": null},
    "text": {"field": "label"}
  }
},
{
  "data": {"name": "redtext"},
  "mark": {"type": "text", "align": "left", "baseline": "alphabetic", "fontSize": 15, "font": "DejaVu Sans", "color": "#ff0000"},
  "encoding": {
    "x": {"field": "lat", "type": "quantitative", "scale": {"domain": [-33.15, 33.76], "nice": false, "zero": false}, "axis": null},
    "y": {"field": "ssha", "type": "quantitative", "scale": {"domain": [-0.819, 1.211], "nice": false, "zero": false}, "axis": null},
    "text": {"field": "label"}
  }
},
{
  "data": {"name": "anchor"},
  "mark": {"type": "point", "opacity": 0},
  "encoding": {
    "x": {"field": "lat", "type": "quantitative", "scale": {"domain": [-33.15, 33.76], "nice": false, "zero": false},
      "axis": {"orient": "bottom", "values": [-30,-20,-10,0,10,20,30], "labels": false, "title": null, "tickSize": -7}},
    "y": {"field": "ssha", "type": "quantitative", "scale": {"domain": [-0.819, 1.211], "nice": false, "zero": false},
      "axis": {"orient": "left", "values": [-0.5,0,0.5,1], "labels": false, "title": null, "tickSize": -7}}
  }
},
{
  "data": {"name": "anchor"},
  "mark": {"type": "point", "opacity": 0},
  "encoding": {
    "x": {"field": "lat", "type": "quantitative", "scale": {"domain": [-33.15, 33.76], "nice": false, "zero": false},
      "axis": {"orient": "bottom", "values": [-32,-28,-26,-24,-22,-18,-16,-14,-12,-8,-6,-4,-2,2,4,6,8,12,14,16,18,22,24,26,28,32], "labels": false, "title": null, "tickSize": -4}},
    "y": {"field": "ssha", "type": "quantitative", "scale": {"domain": [-0.819, 1.211], "nice": false, "zero": false},
      "axis": {"orient": "left", "values": [-0.8,-0.7,-0.6,-0.4,-0.3,-0.2,-0.1,0.1,0.2,0.3,0.4,0.6,0.7,0.8,0.9,1.1,1.2], "labels": false, "title": null, "tickSize": -4}}
  }
},
{
  "data": {"name": "anchor"},
  "mark": {"type": "point", "opacity": 0},
  "encoding": {
    "x": {"field": "lat", "type": "quantitative", "scale": {"domain": [-33.15, 33.76], "nice": false, "zero": false},
      "axis": {"orient": "top", "values": [-30,-20,-10,0,10,20,30], "labels": false, "title": null, "tickSize": -7}},
    "y": {"field": "ssha", "type": "quantitative", "scale": {"domain": [-0.819, 1.211], "nice": false, "zero": false},
      "axis": {"orient": "right", "values": [-0.5,0,0.5,1], "labels": false, "title": null, "tickSize": -7}}
  }
},
{
  "data": {"name": "anchor"},
  "mark": {"type": "point", "opacity": 0},
  "encoding": {
    "x": {"field": "lat", "type": "quantitative", "scale": {"domain": [-33.15, 33.76], "nice": false, "zero": false},
      "axis": {"orient": "top", "values": [-32,-28,-26,-24,-22,-18,-16,-14,-12,-8,-6,-4,-2,2,4,6,8,12,14,16,18,22,24,26,28,32], "labels": false, "title": null, "tickSize": -4}},
    "y": {"field": "ssha", "type": "quantitative", "scale": {"domain": [-0.819, 1.211], "nice": false, "zero": false},
      "axis": {"orient": "right", "values": [-0.8,-0.7,-0.6,-0.4,-0.3,-0.2,-0.1,0.1,0.2,0.3,0.4,0.6,0.7,0.8,0.9,1.1,1.2], "labels": false, "title": null, "tickSize": -4}}
  }
}
]
}
